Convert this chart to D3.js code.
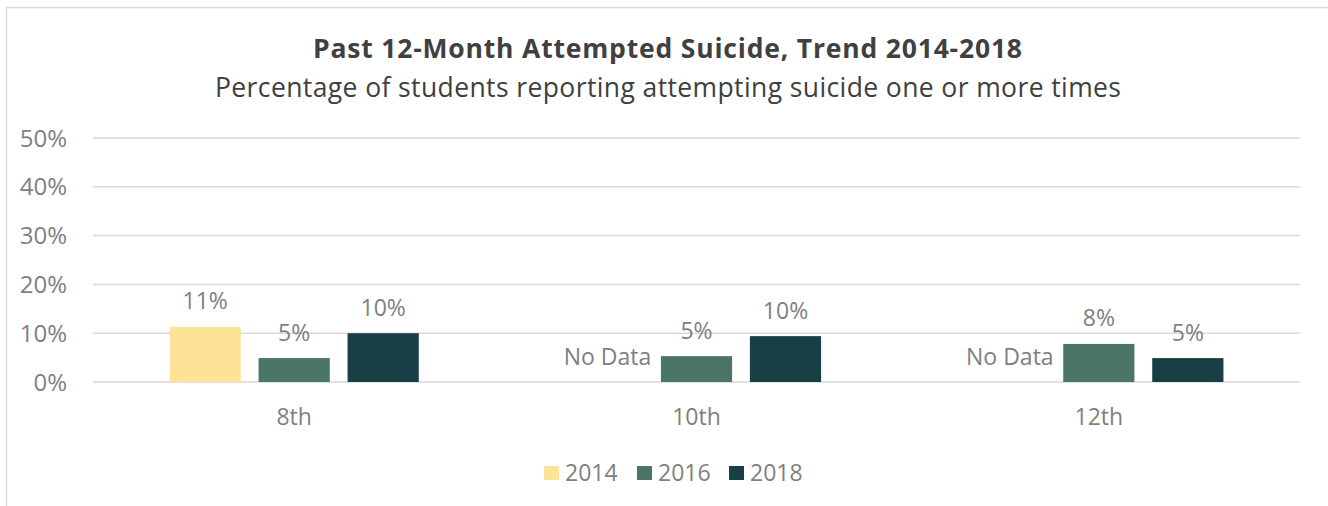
<!DOCTYPE html>
<html><head><meta charset="utf-8">
<script src="https://cdn.jsdelivr.net/npm/d3@7"></script>
<style>body{margin:0;background:#fff;font-family:"Open Sans","Noto Sans",sans-serif;}</style>
</head><body><svg id="c" width="1328" height="506"></svg>
<script>
const categories = ["8th","10th","12th"];
const seriesNames = ["2014","2016","2018"];
const values2014 = [11.3, null, null];
const values2016 = [4.9, 5.3, 7.8];
const values2018 = [10.0, 9.4, 4.9];
const labels2014 = ["11%","No Data","No Data"];
const labels2016 = ["5%","5%","8%"];
const labels2018 = ["10%","10%","5%"];
const yTicks = [0,10,20,30,40,50];
const colors = ["#FDE298","#4B7569","#183E46"];

const series = [
  {name:seriesNames[0], values:values2014, labels:labels2014},
  {name:seriesNames[1], values:values2016, labels:labels2016},
  {name:seriesNames[2], values:values2018, labels:labels2018}
];

const svg = d3.select("#c");
svg.append("rect").attr("x",6.5).attr("y",7.5).attr("width",1340).attr("height",520)
  .attr("fill","none").attr("stroke","#d9d9d9").attr("stroke-width",1.5);

svg.append("text").attr("x",667.5).attr("y",58).attr("text-anchor","middle")
  .attr("font-size",26.5).attr("font-weight","bold").attr("fill","#404040")
  .attr("textLength",709).attr("lengthAdjust","spacing")
  .text("Past 12-Month Attempted Suicide, Trend 2014-2018");
svg.append("text").attr("x",668).attr("y",97).attr("text-anchor","middle")
  .attr("font-size",26.5).attr("fill","#404040")
  .attr("textLength",906).attr("lengthAdjust","spacing")
  .text("Percentage of students reporting attempting suicide one or more times");

const x0 = d3.scaleBand().domain(categories).range([93,1300]).paddingInner(0).paddingOuter(0);
const x1 = d3.scaleBand().domain(seriesNames).range([0,267]).paddingInner(0.2).paddingOuter(0.1);
const y = d3.scaleLinear().domain([0,50]).range([382,138]);

// gridlines
svg.append("g").selectAll("line").data(yTicks).join("line")
  .attr("x1",93).attr("x2",1300).attr("y1",d=>y(d)).attr("y2",d=>y(d))
  .attr("stroke","#d9d9d9").attr("stroke-width",1.5);

// y axis labels
svg.append("g").selectAll("text").data(yTicks).join("text")
  .attr("x",67).attr("y",d=>y(d)+8.5).attr("text-anchor","end")
  .attr("font-size",24).attr("fill","#7f7f7f").text(d=>d+"%");

const groupOffset = c => x0(c) + (x0.bandwidth()-267)/2;

series.forEach((s,si)=>{
  const g = svg.append("g");
  categories.forEach((c,ci)=>{
    const v = s.values[ci];
    const bx = groupOffset(c) + x1(s.name);
    const cx = bx + x1.bandwidth()/2;
    if(v!=null){
      g.append("rect").attr("x",bx).attr("y",y(v)).attr("width",x1.bandwidth())
        .attr("height",y(0)-y(v)).attr("fill",colors[si]);
      g.append("text").attr("x",cx).attr("y",y(v)-17.5).attr("text-anchor","middle")
        .attr("font-size",23).attr("fill","#7f7f7f").text(s.labels[ci]);
    } else {
      g.append("text").attr("x",cx).attr("y",y(0)-17).attr("text-anchor","middle")
        .attr("font-size",23).attr("fill","#7f7f7f").text(s.labels[ci]);
    }
  });
});

// category labels
svg.append("g").selectAll("text").data(categories).join("text")
  .attr("x",d=>x0(d)+x0.bandwidth()/2).attr("y",425).attr("text-anchor","middle")
  .attr("font-size",23).attr("fill","#7f7f7f").text(d=>d);

// legend
const legX = [544, 637, 729];
const lg = svg.append("g");
seriesNames.forEach((n,i)=>{
  lg.append("rect").attr("x",legX[i]).attr("y",466).attr("width",15).attr("height",14).attr("fill",colors[i]);
  lg.append("text").attr("x",legX[i]+21).attr("y",481).attr("font-size",23).attr("fill","#7f7f7f").text(n);
});
</script></body></html>
